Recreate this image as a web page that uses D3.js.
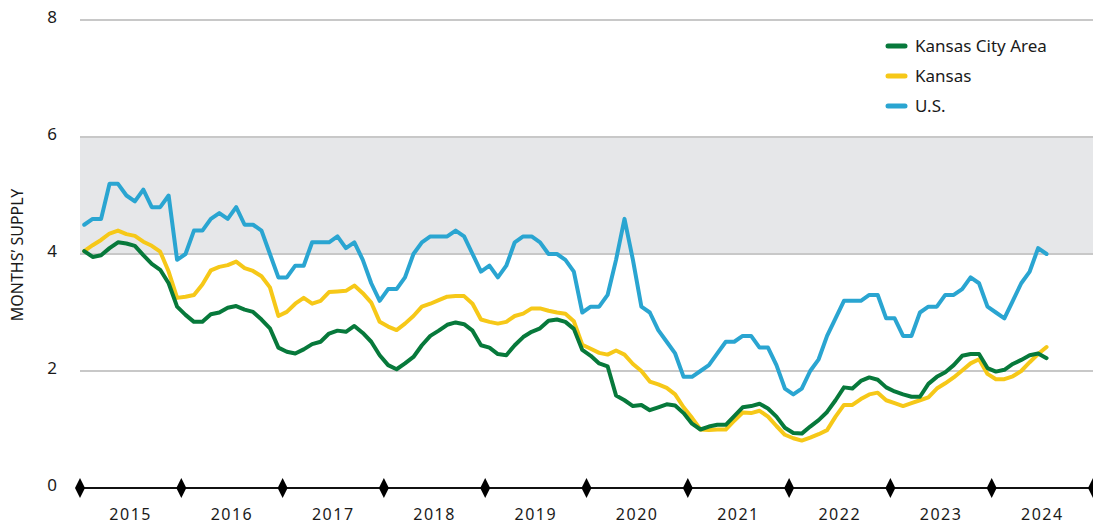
<!DOCTYPE html>
<meta charset="utf-8">
<style>
body { margin: 0; background: #fff; }
text { font-family: "Noto Sans", "Open Sans", sans-serif; fill: #1a1a1a; }
.grid line { stroke: #c8c8c8; stroke-width: 2px; }
.series { fill: none; stroke-width: 4px; stroke-linejoin: round; stroke-linecap: round; }
</style>
<div id="chart"></div>
<script src="https://d3js.org/d3.v7.min.js"></script>
<script>

var width = 1093, height = 529;

// monthly, Jan 2015 .. Jul 2024
var startYear = 2015;
var years = ["2015","2016","2017","2018","2019","2020","2021","2022","2023","2024"];
var yTicks = [0, 2, 4, 6, 8];
var bandRange = [4, 6];

var names = ["Kansas City Area", "Kansas", "U.S."];
var colors = ["#07793b", "#f6c818", "#2aa5d1"];

var kcArea = [4.05,3.95,3.98,4.1,4.2,4.18,4.14,3.98,3.83,3.73,3.5,3.1,2.96,2.84,2.84,2.97,3.0,3.08,3.11,3.05,
  3.01,2.88,2.73,2.4,2.33,2.3,2.37,2.46,2.5,2.64,2.69,2.67,2.77,2.65,2.5,2.27,2.1,2.03,2.13,2.24,
  2.44,2.6,2.69,2.79,2.83,2.8,2.69,2.44,2.4,2.29,2.27,2.44,2.58,2.67,2.73,2.86,2.88,2.84,2.72,2.36,
  2.26,2.13,2.08,1.58,1.5,1.4,1.42,1.33,1.38,1.43,1.41,1.28,1.1,1.0,1.05,1.08,1.08,1.23,1.38,1.4,
  1.44,1.36,1.22,1.03,0.94,0.93,1.05,1.16,1.3,1.5,1.72,1.7,1.83,1.89,1.85,1.72,1.65,1.6,1.56,1.56,
  1.78,1.9,1.98,2.1,2.26,2.29,2.29,2.05,1.99,2.02,2.12,2.19,2.27,2.3,2.22];

var kansas = [4.05,4.15,4.24,4.35,4.4,4.34,4.31,4.21,4.14,4.04,3.7,3.25,3.27,3.3,3.48,3.72,3.78,3.81,3.87,3.76,
  3.71,3.62,3.43,2.94,3.01,3.15,3.25,3.15,3.2,3.35,3.36,3.37,3.46,3.33,3.17,2.84,2.76,2.7,2.81,2.94,
  3.1,3.15,3.21,3.27,3.28,3.28,3.15,2.88,2.84,2.81,2.84,2.94,2.98,3.07,3.07,3.03,3.0,2.98,2.85,2.45,
  2.38,2.31,2.28,2.35,2.28,2.12,2.0,1.82,1.77,1.71,1.6,1.38,1.2,1.0,0.99,1.0,1.0,1.15,1.29,1.28,
  1.32,1.22,1.06,0.91,0.85,0.81,0.86,0.92,0.99,1.22,1.42,1.42,1.52,1.6,1.63,1.5,1.45,1.4,1.45,1.5,
  1.55,1.7,1.79,1.89,2.01,2.13,2.2,1.95,1.86,1.86,1.91,2.0,2.15,2.29,2.41];

var us = [4.5,4.6,4.6,5.2,5.2,5.0,4.9,5.1,4.8,4.8,5.0,3.9,4.0,4.4,4.4,4.6,4.7,4.6,4.8,4.5,
  4.5,4.4,4.0,3.6,3.6,3.8,3.8,4.2,4.2,4.2,4.3,4.1,4.2,3.9,3.5,3.2,3.4,3.4,3.6,4.0,
  4.2,4.3,4.3,4.3,4.4,4.3,4.0,3.7,3.8,3.6,3.8,4.2,4.3,4.3,4.2,4.0,4.0,3.9,3.7,3.0,
  3.1,3.1,3.3,3.9,4.6,3.9,3.1,3.0,2.7,2.5,2.3,1.9,1.9,2.0,2.1,2.3,2.5,2.5,2.6,2.6,
  2.4,2.4,2.1,1.7,1.6,1.7,2.0,2.2,2.6,2.9,3.2,3.2,3.2,3.3,3.3,2.9,2.9,2.6,2.6,3.0,
  3.1,3.1,3.3,3.3,3.4,3.6,3.5,3.1,3.0,2.9,3.2,3.5,3.7,4.1,4.0];

var svg = d3.select("#chart").append("svg")
    .attr("width", width)
    .attr("height", height);

// months since Jan 2015 -> px
var x = d3.scaleLinear().domain([0, years.length * 12]).range([80, 1093]);
var y = d3.scaleLinear().domain([0, 8]).range([488, 20]);

svg.append("rect")
    .attr("x", x(0))
    .attr("width", x(years.length * 12) - x(0))
    .attr("y", y(bandRange[1]))
    .attr("height", y(bandRange[0]) - y(bandRange[1]))
    .attr("fill", "#e6e7e9");

svg.append("g")
    .attr("class", "grid")
  .selectAll("line")
  .data(yTicks.filter(function(d) { return d > 0; }))
  .enter().append("line")
    .attr("x1", x(0))
    .attr("x2", x(years.length * 12))
    .attr("y1", function(d) { return y(d); })
    .attr("y2", function(d) { return y(d); });

svg.append("g")
  .selectAll("text")
  .data(yTicks)
  .enter().append("text")
    .attr("x", 52)
    .attr("y", function(d) { return y(d) + 3; })
    .attr("text-anchor", "middle")
    .style("font-size", "17px")
    .text(function(d) { return d; });

svg.append("text")
    .attr("transform", "translate(23,255) rotate(-90)")
    .attr("text-anchor", "middle")
    .style("font-size", "16px")
    .text("MONTHS\u2019 SUPPLY");

var line = d3.line()
    .x(function(d, i) { return x(i + 0.5); })
    .y(function(d) { return y(d); });

var seriesData = [us, kansas, kcArea];
var seriesColor = [colors[2], colors[1], colors[0]];

svg.append("g")
  .selectAll("path")
  .data(seriesData)
  .enter().append("path")
    .attr("class", "series")
    .attr("stroke", function(d, i) { return seriesColor[i]; })
    .attr("d", line);

// x axis with diamond markers at year boundaries
var axis = svg.append("g");
axis.append("line")
    .attr("x1", x(0))
    .attr("x2", x(years.length * 12))
    .attr("y1", y(0))
    .attr("y2", y(0))
    .attr("stroke", "#111")
    .attr("stroke-width", 2);

axis.selectAll("path")
  .data(d3.range(years.length + 1))
  .enter().append("path")
    .attr("transform", function(d) { return "translate(" + x(d * 12) + "," + y(0) + ")"; })
    .attr("d", "M0,-10L5,0L0,10L-5,0Z")
    .attr("fill", "#000");

axis.selectAll("text")
  .data(years)
  .enter().append("text")
    .attr("x", function(d, i) { return x(i * 12 + 6); })
    .attr("y", 520)
    .attr("text-anchor", "middle")
    .style("font-size", "16px")
    .style("letter-spacing", "1.5px")
    .text(function(d) { return d; });

var legend = svg.append("g")
  .selectAll("g")
  .data(names)
  .enter().append("g")
    .attr("transform", function(d, i) { return "translate(888," + (46 + i * 30) + ")"; });

legend.append("line")
    .attr("x1", 0).attr("x2", 17)
    .attr("stroke", function(d, i) { return colors[i]; })
    .attr("stroke-width", 5)
    .attr("stroke-linecap", "round");

legend.append("text")
    .attr("x", 27)
    .attr("y", 6)
    .style("font-size", "17px")
    .text(function(d) { return d; });

</script>
